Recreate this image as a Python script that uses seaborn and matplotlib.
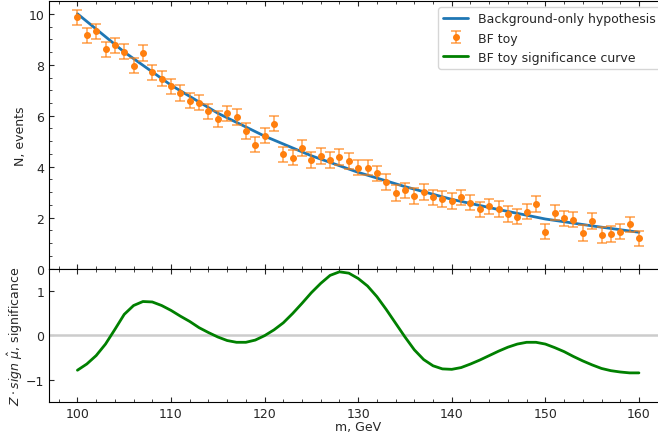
import numpy as np
import pandas as pd
import matplotlib
matplotlib.use("Agg")
import matplotlib.pyplot as plt
from matplotlib.ticker import MultipleLocator
import seaborn as sns

# Background-only fit, sampled every 5 GeV
bkg_mass = [100, 105, 110, 115, 120, 125, 130, 135, 140, 145, 150, 155, 160]
bkg_events = [10.0, 8.5, 7.2, 6.1, 5.2, 4.43, 3.78, 3.22, 2.72, 2.32, 1.95, 1.68, 1.43]

# BF toy pseudo-data, one bin per GeV
toy_mass = list(range(100, 161))
toy_events = [9.86, 9.16, 9.31, 8.60, 8.76, 8.51, 7.96, 8.46, 7.71, 7.45,
              7.15, 6.89, 6.59, 6.51, 6.18, 5.87, 6.10, 5.95, 5.40, 4.86,
              5.22, 5.69, 4.49, 4.35, 4.73, 4.27, 4.42, 4.27, 4.38, 4.22,
              3.96, 3.97, 3.74, 3.40, 2.97, 3.07, 2.85, 3.01, 2.80, 2.74,
              2.66, 2.80, 2.59, 2.33, 2.45, 2.34, 2.15, 2.04, 2.24, 2.54,
              1.45, 2.20, 1.98, 1.92, 1.40, 1.87, 1.32, 1.36, 1.45, 1.74,
              1.19]
toy_err = [0.3] * len(toy_mass)

# Local significance of the toy versus mass
sig_values = [-0.79, -0.65, -0.46, -0.20, 0.13, 0.47, 0.67, 0.76, 0.75, 0.67,
              0.56, 0.43, 0.31, 0.17, 0.06, -0.04, -0.12, -0.16, -0.16, -0.11,
              -0.01, 0.12, 0.28, 0.49, 0.72, 0.96, 1.17, 1.35, 1.43, 1.40,
              1.28, 1.11, 0.87, 0.58, 0.27, -0.04, -0.33, -0.55, -0.69, -0.76,
              -0.77, -0.73, -0.65, -0.56, -0.46, -0.36, -0.27, -0.20, -0.16, -0.16,
              -0.20, -0.28, -0.37, -0.48, -0.58, -0.67, -0.75, -0.80, -0.83, -0.85,
              -0.85]

sns.set_style("ticks", {
    "xtick.direction": "in", "ytick.direction": "in",
    "xtick.top": True, "ytick.right": True,
    "axes.edgecolor": "black",
})
plt.rcParams["font.family"] = ["DejaVu Sans"]
plt.rcParams["font.size"] = 9

fig = plt.figure(figsize=(6.58, 4.39), dpi=100)
left, right = 0.075, 1.0137
ax = fig.add_axes([left, 0.3856, right - left, 0.9954 - 0.3856])
axs = fig.add_axes([left, 0.0827, right - left, 0.3856 - 0.0827], sharex=ax)

bkg_df = pd.DataFrame({"m": bkg_mass, "N": bkg_events})
sig_df = pd.DataFrame({"m": toy_mass, "Z": sig_values})

sns.lineplot(data=bkg_df, x="m", y="N", ax=ax, color="#1f77b4", lw=2,
             label="Background-only hypothesis")
eb = ax.errorbar(toy_mass, toy_events, yerr=toy_err, fmt="o", ms=4,
                 color="#ff7f0e", capsize=3.5, elinewidth=1.1, capthick=1.1,
                 label="BF toy")
for art in list(eb[1]) + list(eb[2]):
    art.set_alpha(0.75)

axs.axhline(0, color="#cccccc", lw=1.8, zorder=1)
sns.lineplot(data=sig_df, x="m", y="Z", ax=axs, color="green", lw=2,
             label="BF toy significance curve")

h1, l1 = ax.get_legend_handles_labels()
h2, l2 = axs.get_legend_handles_labels()
axs.get_legend().remove()
ax.legend(h1 + h2, l1 + l2, loc="upper right", fontsize=9)

ax.set_xlim(97, 163)
ax.set_ylim(0, 10.5)
axs.set_ylim(-1.5, 1.5)

for a in (ax, axs):
    a.xaxis.set_major_locator(MultipleLocator(10))
    a.xaxis.set_minor_locator(MultipleLocator(2))
    a.tick_params(which="both", direction="in", top=True, right=True)
ax.yaxis.set_major_locator(MultipleLocator(2))
ax.yaxis.set_minor_locator(MultipleLocator(0.5))
axs.yaxis.set_major_locator(MultipleLocator(1))

ax.tick_params(labelbottom=False)
ax.set_xlabel("")
ax.set_ylabel("N, events", labelpad=1)
axs.set_ylabel(r"$Z \cdot sign\ \hat{\mu}$, significance", labelpad=1)
axs.set_xlabel("m, GeV", labelpad=0.5)

fig.savefig("out.png", dpi=100)
